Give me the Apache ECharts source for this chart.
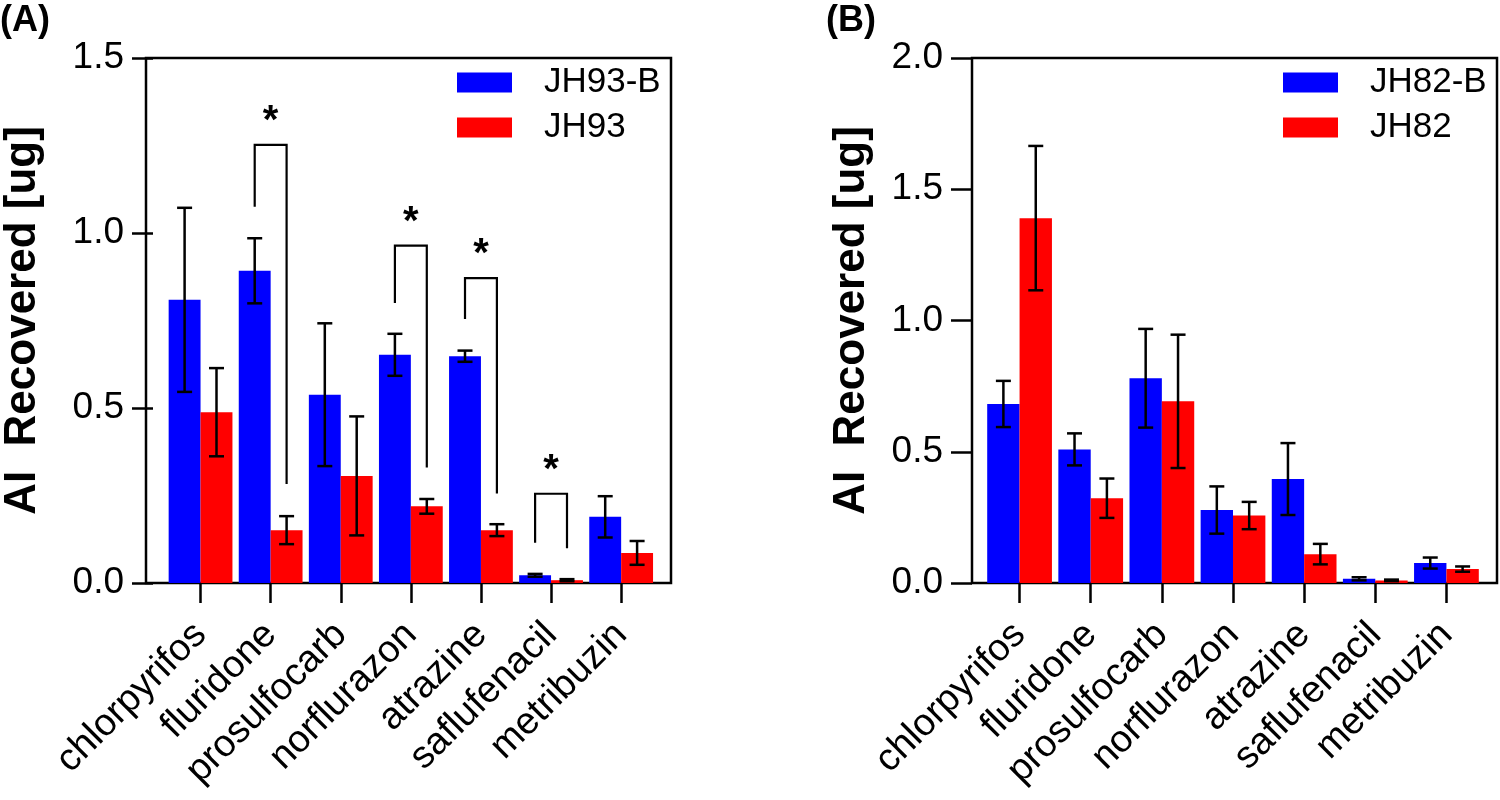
<!DOCTYPE html>
<html>
<head>
<meta charset="utf-8">
<title>AI Recovered</title>
<script src="https://cdn.jsdelivr.net/npm/echarts@6/dist/echarts.min.js"></script>
<style>
  html, body { margin: 0; padding: 0; background: #fff; }
</style>
</head>
<body>
<div id="main" style="width: 1500px;height:800px;"></div>
<script type="text/javascript">
// categories + means / sd
var categories = ['chlorpyrifos', 'fluridone', 'prosulfocarb', 'norflurazon', 'atrazine', 'saflufenacil', 'metribuzin'];

var jh93B    = [0.809, 0.892, 0.538, 0.652, 0.648, 0.022, 0.189];
var jh93BErr = [0.263, 0.093, 0.204, 0.060, 0.016, 0.004, 0.059];
var jh93     = [0.488, 0.151, 0.306, 0.219, 0.151, 0.008, 0.086];
var jh93Err  = [0.126, 0.040, 0.170, 0.021, 0.017, 0.003, 0.034];

var jh82B    = [0.682, 0.509, 0.780, 0.278, 0.396, 0.016, 0.076];
var jh82BErr = [0.088, 0.061, 0.188, 0.090, 0.137, 0.006, 0.021];
var jh82     = [1.390, 0.323, 0.692, 0.257, 0.110, 0.010, 0.053];
var jh82Err  = [0.275, 0.075, 0.254, 0.052, 0.039, 0.003, 0.010];

// significance brackets in panel A
var sigCats  = [1, 3, 4, 5];
var sigLeft  = [1.075, 0.800, 0.754, 0.115];
var sigRight = [0.283, 0.330, 0.256, 0.099];
var sigTop   = [1.252, 0.964, 0.871, 0.255];

var yTicksA = [0, 1.5, 0.5];   // min, max, interval
var yTicksB = [0, 2.0, 0.5];

var BAR = 0.455;   // bar width as share of the category band
var FONT = 'Liberation Sans, Arial, sans-serif';

function rows(vals, errs) {
    return vals.map(function (v, i) { return [i, v, errs[i]]; });
}

function errRender(side) {
    return function (params, api) {
        var i = api.value(0), v = api.value(1), e = api.value(2);
        var band = api.size([1, 0])[0];
        var x = api.coord([i, v])[0] + side * band * BAR / 2;
        var hi = api.coord([i, v + e])[1];
        var lo = api.coord([i, Math.max(v - e, 0)])[1];
        var cap = 7.5;
        var st = { stroke: '#000', lineWidth: 2.5 };
        return {
            type: 'group',
            children: [
                { type: 'line', shape: { x1: x, y1: hi, x2: x, y2: lo }, style: st },
                { type: 'line', shape: { x1: x - cap, y1: hi, x2: x + cap, y2: hi }, style: st },
                { type: 'line', shape: { x1: x - cap, y1: lo, x2: x + cap, y2: lo }, style: st }
            ]
        };
    };
}

function sigRender(params, api) {
    var i = api.value(0);
    var band = api.size([1, 0])[0];
    var c = api.coord([i, api.value(3)]);
    var xl = c[0] - band * BAR / 2, xr = c[0] + band * BAR / 2;
    var yl = api.coord([i, api.value(1)])[1];
    var yr = api.coord([i, api.value(2)])[1];
    return {
        type: 'group',
        children: [
            { type: 'polyline', shape: { points: [[xl, yl], [xl, c[1]], [xr, c[1]], [xr, yr]] },
              style: { stroke: '#000', lineWidth: 2.2, fill: null } },
            { type: 'text', x: c[0], y: c[1] - 23,
              style: { text: '*', fontSize: 40, fontWeight: 'bold', fontFamily: FONT,
                       fill: '#000', align: 'center', verticalAlign: 'middle' } }
        ]
    };
}

function frameAxis(gi) {
    return { gridIndex: gi, type: 'value', show: false, min: 0, max: 1 };
}

function catAxis(gi) {
    return {
        gridIndex: gi, type: 'category', data: categories,
        axisLine: { show: false },
        axisTick: { show: true, alignWithLabel: true, length: 20, lineStyle: { color: '#000', width: 2.5 } },
        axisLabel: { interval: 0, rotate: 45, fontSize: 38, color: '#000', margin: 46, fontFamily: FONT },
        splitLine: { show: false }
    };
}

function valAxis(gi, ticks, off, gap) {
    return {
        gridIndex: gi, type: 'value', min: ticks[0], max: ticks[1], interval: ticks[2],
        offset: off,
        name: 'AI  Recovered [ug]', nameLocation: 'middle', nameGap: gap,
        nameTextStyle: { fontSize: 44, fontWeight: 'bold', color: '#000', fontFamily: FONT },
        axisLine: { show: false },
        axisTick: { show: true, length: 21, lineStyle: { color: '#000', width: 2.5 } },
        axisLabel: { fontSize: 37, color: '#000', margin: 29, fontFamily: FONT,
                     formatter: function (v) { return v.toFixed(1); } },
        splitLine: { show: false }
    };
}

function barSeries(name, vals, color, ai) {
    return {
        name: name, type: 'bar', xAxisIndex: ai, yAxisIndex: ai,
        barWidth: (BAR * 100) + '%', barGap: '0%',
        itemStyle: { color: color },
        data: vals
    };
}

function errSeries(vals, errs, side, ai) {
    return {
        type: 'custom', xAxisIndex: ai, yAxisIndex: ai, z: 5,
        renderItem: errRender(side), encode: { x: 0, y: 1 },
        data: rows(vals, errs)
    };
}

var legendBase = {
    orient: 'vertical', icon: 'rect', itemWidth: 55, itemHeight: 20, itemGap: 10, padding: 0,
    textStyle: { fontSize: 35, color: '#000', fontFamily: FONT, padding: [0, 0, 0, 27] }
};

var myChart = echarts.init(document.getElementById('main'));
var option = {
    animation: false,
    textStyle: { fontFamily: FONT },
    title: [
        { text: '(A)', left: 0, top: 3, padding: 0,
          textStyle: { fontSize: 36, fontWeight: 'bold', color: '#000', fontFamily: FONT } },
        { text: '(B)', left: 826, top: 3, padding: 0,
          textStyle: { fontSize: 36, fontWeight: 'bold', color: '#000', fontFamily: FONT } }
    ],
    legend: [
        Object.assign({}, legendBase, { data: ['JH93-B', 'JH93'], left: 457, top: 65 }),
        Object.assign({}, legendBase, { data: ['JH82-B', 'JH82'], left: 1283, top: 65 })
    ],
    grid: [
        { left: 146, top: 58, width: 525, height: 525, show: true, borderColor: '#000', borderWidth: 2.5, backgroundColor: 'transparent' },
        { left: 158.5, top: 58, width: 497.7, height: 525 },
        { left: 972, top: 58, width: 525, height: 525, show: true, borderColor: '#000', borderWidth: 2.5, backgroundColor: 'transparent' },
        { left: 984, top: 58, width: 498, height: 525 }
    ],
    xAxis: [frameAxis(0), catAxis(1), frameAxis(2), catAxis(3)],
    yAxis: [frameAxis(0), valAxis(1, yTicksA, 12.5, 108), frameAxis(2), valAxis(3, yTicksB, 12, 98)],
    series: [
        barSeries('JH93-B', jh93B, '#0000FF', 1),
        barSeries('JH93', jh93, '#FF0000', 1),
        errSeries(jh93B, jh93BErr, -1, 1),
        errSeries(jh93, jh93Err, 1, 1),
        {
            type: 'custom', xAxisIndex: 1, yAxisIndex: 1, z: 6,
            renderItem: sigRender, encode: { x: 0, y: 3 },
            data: sigCats.map(function (c, k) { return [c, sigLeft[k], sigRight[k], sigTop[k]]; })
        },
        barSeries('JH82-B', jh82B, '#0000FF', 3),
        barSeries('JH82', jh82, '#FF0000', 3),
        errSeries(jh82B, jh82BErr, -1, 3),
        errSeries(jh82, jh82Err, 1, 3)
    ]
};
myChart.setOption(option);
window.onresize = function () {
    myChart.resize();
};
</script>
</body>
</html>
